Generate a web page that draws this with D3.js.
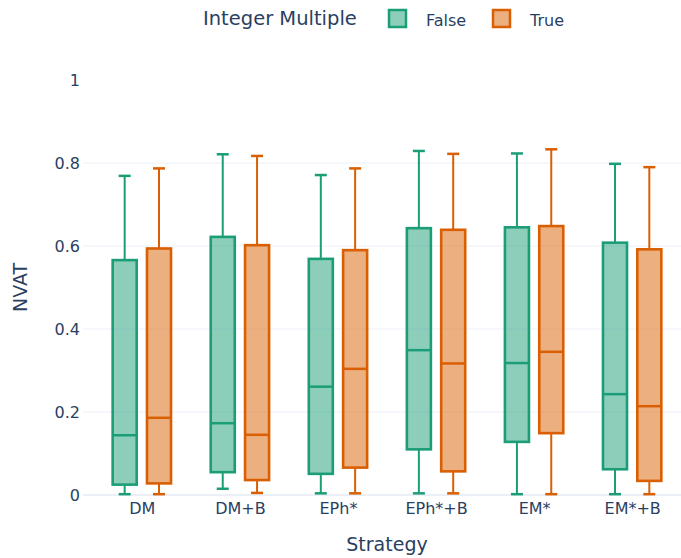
<!DOCTYPE html>
<html>
<head>
<meta charset="utf-8">
<script src="https://cdn.jsdelivr.net/npm/d3@7"></script>
<style>
  html, body { margin: 0; padding: 0; background: #fff; }
  svg { display: block; font-family: "DejaVu Sans", Verdana, sans-serif; }
</style>
</head>
<body>
<svg id="chart" width="681" height="558"></svg>
<script>
// Strategies along the x axis
const strategies = ["DM", "DM+B", "EPh*", "EPh*+B", "EM*", "EM*+B"];
const groups = ["False", "True"];
const groupColors = ["#1b9e77", "#d95f02"];

// Box summaries of NVAT per strategy (lower fence, Q1, median, Q3, upper fence)
const falseLower  = [0.002, 0.015, 0.004, 0.004, 0.002, 0.002];
const falseQ1     = [0.025, 0.055, 0.051, 0.110, 0.128, 0.062];
const falseMedian = [0.144, 0.173, 0.261, 0.349, 0.318, 0.243];
const falseQ3     = [0.566, 0.622, 0.569, 0.643, 0.645, 0.608];
const falseUpper  = [0.769, 0.821, 0.771, 0.829, 0.823, 0.798];

const trueLower  = [0.002, 0.005, 0.004, 0.004, 0.002, 0.002];
const trueQ1     = [0.028, 0.036, 0.066, 0.057, 0.149, 0.034];
const trueMedian = [0.186, 0.145, 0.304, 0.317, 0.345, 0.214];
const trueQ3     = [0.594, 0.602, 0.590, 0.639, 0.648, 0.592];
const trueUpper  = [0.787, 0.817, 0.787, 0.822, 0.833, 0.790];

const yTicks = [0, 0.2, 0.4, 0.6, 0.8, 1];

const series = [
  { name: groups[0], color: groupColors[0], lower: falseLower, q1: falseQ1, median: falseMedian, q3: falseQ3, upper: falseUpper },
  { name: groups[1], color: groupColors[1], lower: trueLower,  q1: trueQ1,  median: trueMedian,  q3: trueQ3,  upper: trueUpper }
];

const textColor = "#2a3f5f";
const gridColor = "#ebf0f8";

const svg = d3.select("#chart");
const plot = { left: 83, right: 691, top: 80, bottom: 495 };

// Category positions: each strategy gets a unit slot
const x = d3.scaleLinear().domain([-0.6, strategies.length - 0.4]).range([plot.left, plot.right]);
const y = d3.scaleLinear().domain([0, 1]).range([plot.bottom, plot.top]);

const slot = x(1) - x(0);
const groupWidth = slot * (1 - 0.3);
const boxSlot = groupWidth / series.length;
const boxWidth = boxSlot * (1 - 0.3);
const capWidth = boxWidth * 0.5;

// Horizontal gridlines
svg.append("g")
  .selectAll("line")
  .data(yTicks.filter(t => t > 0 && t < 1))
  .join("line")
  .attr("x1", plot.left).attr("x2", plot.right)
  .attr("y1", d => y(d)).attr("y2", d => y(d))
  .attr("stroke", gridColor).attr("stroke-width", 1);

// Zero line
svg.append("line")
  .attr("x1", plot.left).attr("x2", plot.right)
  .attr("y1", y(0)).attr("y2", y(0))
  .attr("stroke", gridColor).attr("stroke-width", 2);

// Y tick labels
const yAxis = d3.axisLeft(y).tickValues(yTicks).tickFormat(d3.format("~g")).tickSize(0).tickPadding(3);
const yAxisG = svg.append("g").attr("transform", `translate(${plot.left},0)`).call(yAxis);
yAxisG.select(".domain").remove();
yAxisG.selectAll("text").attr("fill", textColor).style("font-size", "16px").style("font-family", "DejaVu Sans, sans-serif");

// X tick labels
const xAxis = d3.axisBottom(x).tickValues(d3.range(strategies.length)).tickFormat(i => strategies[i]).tickSize(0).tickPadding(8);
const xAxisG = svg.append("g").attr("transform", `translate(0,${plot.bottom})`).call(xAxis);
xAxisG.select(".domain").remove();
xAxisG.selectAll("text").attr("fill", textColor).style("font-size", "16px").style("font-family", "DejaVu Sans, sans-serif");

// Boxes
series.forEach((s, si) => {
  const offset = -groupWidth / 2 + boxSlot * (si + 0.5);
  const g = svg.append("g");
  strategies.forEach((cat, i) => {
    const cx = x(i) + offset;
    const bg = g.append("g");
    // whiskers
    bg.append("line")
      .attr("x1", cx).attr("x2", cx)
      .attr("y1", y(s.q3[i])).attr("y2", y(s.upper[i]))
      .attr("stroke", s.color).attr("stroke-width", 2);
    bg.append("line")
      .attr("x1", cx).attr("x2", cx)
      .attr("y1", y(s.q1[i])).attr("y2", y(s.lower[i]))
      .attr("stroke", s.color).attr("stroke-width", 2);
    // caps
    [s.upper[i], s.lower[i]].forEach(v => {
      bg.append("line")
        .attr("x1", cx - capWidth / 2).attr("x2", cx + capWidth / 2)
        .attr("y1", y(v)).attr("y2", y(v))
        .attr("stroke", s.color).attr("stroke-width", 2.5);
    });
    // box
    bg.append("rect")
      .attr("x", cx - boxWidth / 2)
      .attr("y", y(s.q3[i]))
      .attr("width", boxWidth)
      .attr("height", y(s.q1[i]) - y(s.q3[i]))
      .attr("fill", s.color).attr("fill-opacity", 0.5)
      .attr("stroke", s.color).attr("stroke-width", 2.6);
    // median
    bg.append("line")
      .attr("x1", cx - boxWidth / 2).attr("x2", cx + boxWidth / 2)
      .attr("y1", y(s.median[i])).attr("y2", y(s.median[i]))
      .attr("stroke", s.color).attr("stroke-width", 2.5);
  });
});

// Axis titles
svg.append("text")
  .attr("x", (plot.left + plot.right) / 2).attr("y", 551)
  .attr("text-anchor", "middle")
  .attr("fill", textColor).style("font-size", "19px")
  .text("Strategy");

svg.append("text")
  .attr("transform", `translate(27,${(plot.top + plot.bottom) / 2}) rotate(-90)`)
  .attr("text-anchor", "middle")
  .attr("fill", textColor).style("font-size", "19px")
  .text("NVAT");

// Legend
const legend = svg.append("g");
legend.append("text")
  .attr("x", 203).attr("y", 25)
  .attr("fill", textColor).style("font-size", "19.5px")
  .text("Integer Multiple");

const legendX = [388, 492];
series.forEach((s, si) => {
  legend.append("rect")
    .attr("x", legendX[si] + 1).attr("y", 10)
    .attr("width", 17).attr("height", 17)
    .attr("fill", s.color).attr("fill-opacity", 0.5)
    .attr("stroke", s.color).attr("stroke-width", 2.5);
  legend.append("text")
    .attr("x", legendX[si] + 38).attr("y", 26)
    .attr("fill", textColor).style("font-size", "16px")
    .text(s.name);
});
</script>
</body>
</html>
